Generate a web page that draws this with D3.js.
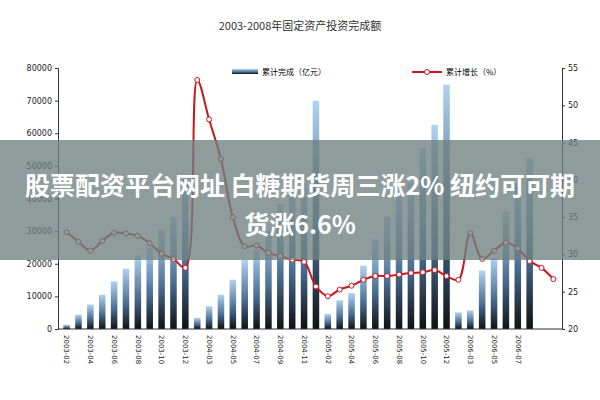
<!DOCTYPE html><html><head><meta charset="utf-8"><script src="https://cdn.jsdelivr.net/npm/d3@7"></script>
<style>body{margin:0;background:#fff}</style></head><body><svg id="c" width="600" height="400"></svg><script>
const months=[];
[[2003,2,12],[2004,2,12],[2005,2,12],[2006,2,10]].forEach(([y,a,b])=>{for(let m=a;m<=b;m++)months.push(y+"-"+String(m).padStart(2,"0"));});
const barValues=[1300,4400,7500,10500,14600,18500,22500,25000,30500,34300,45800,
3400,7000,10500,15100,21200,24300,30400,38400,42700,44700,70000,
4600,8800,11000,19400,27400,34500,40700,44700,55500,62600,74900,
5100,5700,17900,21800,36100,44700,52400,null,null];
const growth=[33.0,31.7,30.5,31.8,32.9,32.8,32.5,31.5,30.1,29.4,28.2,
53.4,48.1,42.8,35.0,31.1,31.2,30.2,29.8,29.3,29.0,25.7,
24.4,25.3,25.8,26.6,27.1,27.1,27.3,27.5,27.6,27.9,27.1,
26.6,32.9,29.4,30.5,31.6,30.8,29.1,28.2,26.7];
const leftTicks=[0,10000,20000,30000,40000,50000,60000,70000,80000];
const rightTicks=[20,25,30,35,40,45,50,55];
const svg=d3.select("#c");
const L=58,R=562,T=68,B=329;
const x=d3.scaleBand().domain(months).range([L,R]).padding(0.45);
const yl=d3.scaleLinear().domain([0,80000]).range([B,T]);
const yr=d3.scaleLinear().domain([20,55]).range([B,T]);
const g=svg.append("defs").append("linearGradient").attr("id","bg").attr("x1",0).attr("x2",0).attr("y1",1).attr("y2",0);
g.append("stop").attr("offset","0").attr("stop-color","#111");
g.append("stop").attr("offset","0.4").attr("stop-color","#46698e");
g.append("stop").attr("offset","1").attr("stop-color","#b0d3f2");
svg.append("text").attr("x",300).attr("y",30).attr("text-anchor","middle").attr("font-size",11).attr("font-family","Noto Sans CJK SC").attr("fill","#333").text("2003-2008年固定资产投资完成额");
svg.selectAll("rect.b").data(barValues.map((v,i)=>[months[i],v]).filter(d=>d[1]!=null)).join("rect")
 .attr("x",d=>x(d[0])).attr("width",x.bandwidth()).attr("y",d=>yl(d[1])).attr("height",d=>B-yl(d[1])).attr("fill","url(#bg)");
const la=svg.append("g").attr("transform",`translate(${L},0)`).call(d3.axisLeft(yl).tickValues(leftTicks).tickSize(3).tickFormat(d=>d));
const ra=svg.append("g").attr("transform",`translate(${R},0)`).call(d3.axisRight(yr).tickValues(rightTicks).tickSize(3));
[la,ra].forEach(a=>{a.selectAll("text").attr("font-size",8).attr("font-family","DejaVu Sans").attr("fill","#222");a.selectAll("path,line").attr("stroke","#333");});
svg.append("line").attr("x1",L).attr("x2",R).attr("y1",B).attr("y2",B).attr("stroke","#333");
const xa=svg.append("g").attr("transform",`translate(0,${B})`).call(d3.axisBottom(x).tickValues(months.filter((d,i)=>i%2==0&&i<40)).tickSize(0));
xa.select("path").remove();
xa.selectAll("text").attr("font-size",7).attr("font-family","DejaVu Sans").attr("fill","#222").attr("transform","rotate(90)").style("text-anchor","start").attr("x",6).attr("y",0).attr("dy","0.3em");
const cx=d=>x(d)+x.bandwidth()/2;
svg.append("path").datum(growth).attr("fill","none").attr("stroke","#c8191e").attr("stroke-width",2)
 .attr("d",d3.line().x((d,i)=>cx(months[i])).y(d=>yr(d)).curve(d3.curveCatmullRom));
svg.selectAll("circle").data(growth).join("circle").attr("cx",(d,i)=>cx(months[i])).attr("cy",d=>yr(d)).attr("r",2.5).attr("fill","#fff").attr("stroke","#c8191e").attr("stroke-width",1);
svg.append("rect").attr("x",232).attr("y",69).attr("width",26).attr("height",5).attr("fill","url(#bg)");
svg.append("text").attr("x",262).attr("y",75).attr("font-size",8).attr("font-family","Noto Sans CJK SC").text("累计完成（亿元）");
svg.append("line").attr("x1",412).attr("x2",442).attr("y1",72).attr("y2",72).attr("stroke","#c8191e").attr("stroke-width",2);
svg.append("circle").attr("cx",427).attr("cy",72).attr("r",2.5).attr("fill","#fff").attr("stroke","#c8191e");
svg.append("text").attr("x",446).attr("y",75).attr("font-size",8).attr("font-family","Noto Sans CJK SC").text("累计增长（%）");
svg.append("rect").attr("x",0).attr("y",140).attr("width",600).attr("height",120).attr("fill","rgba(110,128,128,0.78)");
svg.append("text").attr("x",300).attr("y",195).attr("text-anchor","middle").attr("font-size",25).attr("font-weight","bold").attr("font-family","Noto Sans CJK SC").attr("fill","#fff").text("股票配资平台网址 白糖期货周三涨2% 纽约可可期");
svg.append("text").attr("x",300).attr("y",234).attr("text-anchor","middle").attr("font-size",25).attr("font-weight","bold").attr("font-family","Noto Sans CJK SC").attr("fill","#fff").text("货涨6.6%");
</script></body></html>
